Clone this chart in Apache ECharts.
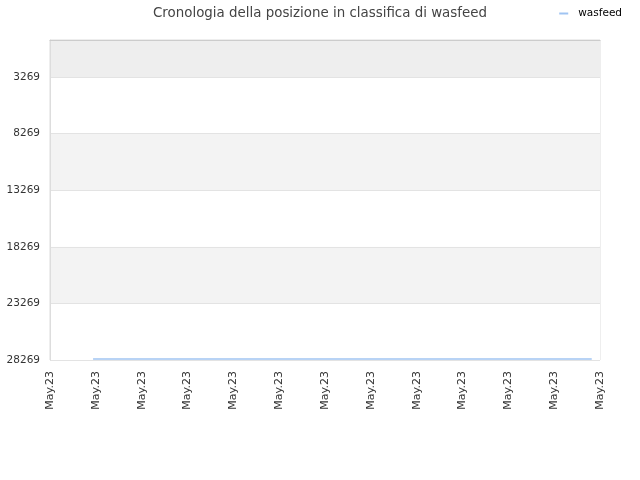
<!DOCTYPE html>
<html>
<head>
<meta charset="utf-8">
<script src="https://cdn.jsdelivr.net/npm/echarts@6/dist/echarts.min.js"></script>
<style>html,body{margin:0;padding:0;background:#fff;}#c{width:640px;height:480px;}</style>
</head>
<body>
<div id="c"></div>
<script>
var titleText = 'Cronologia della posizione in classifica di wasfeed';
var seriesName = 'wasfeed';
var xTickLabels = ['May.23','May.23','May.23','May.23','May.23','May.23','May.23','May.23','May.23','May.23','May.23','May.23','May.23'];
var xPositions = [0.94, 11.82];
var ranks = [28180, 28180];
var yTop = 0;
var yBottom = 28269;
var yStep = 5000;

var chart = echarts.init(document.getElementById('c'), null, {renderer: 'canvas'});
var lineData = xPositions.map(function (x, i) { return [x, -ranks[i]]; });
chart.setOption({
  animation: false,
  backgroundColor: '#fff',
  title: {
    text: titleText,
    left: 'center',
    top: 2,
    textStyle: {fontFamily: 'DejaVu Sans', fontSize: 13.4, fontWeight: 'normal', color: '#444'}
  },
  legend: {
    right: 13,
    top: 3,
    icon: 'rect',
    itemWidth: 9,
    itemHeight: 2,
    textStyle: {fontFamily: 'DejaVu Sans', fontSize: 10.5, color: '#000', padding: [0, 0, 0, 5]},
    data: [seriesName]
  },
  grid: {left: 50, right: 40, top: 40, bottom: 120, show: true, borderColor: '#ddd', borderWidth: 1},
  xAxis: {
    type: 'value',
    min: 0,
    max: xTickLabels.length - 1,
    interval: 1,
    axisLine: {show: true, lineStyle: {color: '#ccc'}},
    axisTick: {show: false},
    splitLine: {show: false},
    axisLabel: {
      rotate: 90,
      margin: 11,
      fontFamily: 'DejaVu Sans',
      fontSize: 11,
      color: '#333',
      formatter: function (v) { return xTickLabels[Math.round(v)] || ''; }
    }
  },
  yAxis: {
    type: 'value',
    min: -yBottom,
    max: -yTop,
    interval: yStep,
    axisLine: {show: true, lineStyle: {color: '#ddd'}},
    axisTick: {show: false},
    splitLine: {show: true, lineStyle: {color: '#e3e3e3'}},
    splitArea: {show: true, areaStyle: {color: ['#ffffff', '#f3f3f3', '#ffffff', '#f3f3f3', '#ffffff', '#eeeeee']}},
    axisLabel: {
      showMaxLabel: false,
      margin: 10,
      fontFamily: 'DejaVu Sans',
      fontSize: 10.5,
      color: '#333',
      formatter: function (v) { return String(-v); }
    }
  },
  series: [{
    name: seriesName,
    type: 'line',
    data: lineData,
    symbol: 'none',
    lineStyle: {color: '#a0c4f2', width: 1.5},
    itemStyle: {color: '#a0c4f2'}
  }]
});
</script>
</body>
</html>
